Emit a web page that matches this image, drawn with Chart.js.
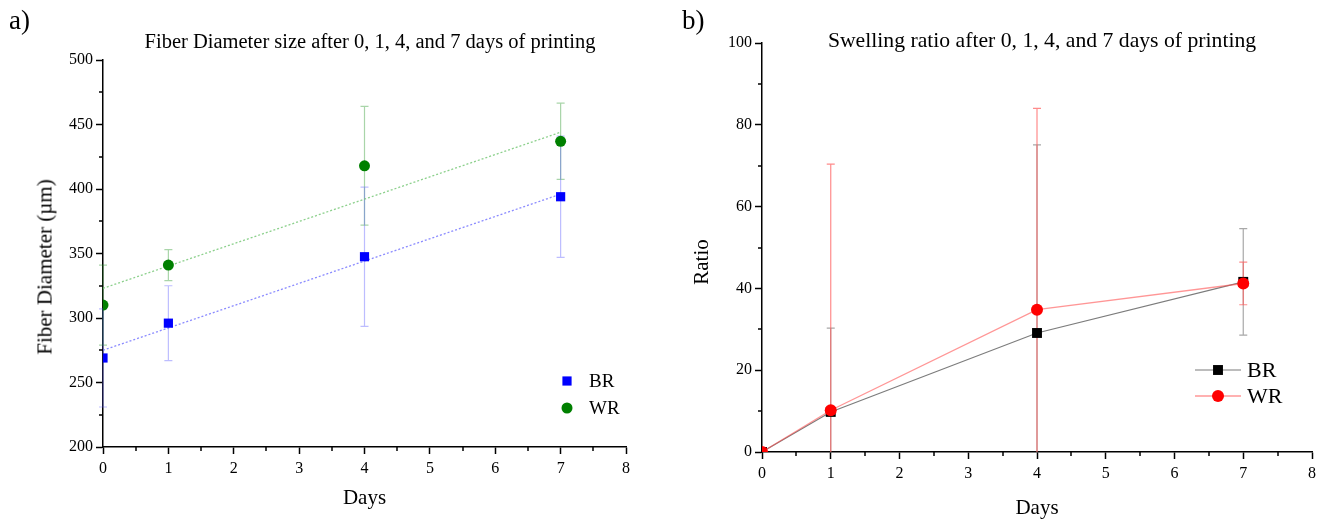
<!DOCTYPE html>
<html>
<head>
<meta charset="utf-8">
<script src="https://cdn.jsdelivr.net/npm/chart.js@4.4.1/dist/chart.umd.min.js"></script>
<style>
    body { margin: 0; background: #fff; width: 1327px; height: 522px; overflow: hidden; position: relative; font-family: "Liberation Serif", "Times New Roman", serif; color: #000; }
    .panel { position: absolute; top: 0; height: 522px; }
    #wrapA { left: 0; width: 660px; }
    #wrapB { left: 660px; width: 667px; }
    .lab { position: absolute; font-size: 27px; line-height: 1; top: 7px; }
    .ttl { position: absolute; font-size: 20.5px; line-height: 1; transform: translate(-50%, -50%); white-space: nowrap; }
    .ytl { position: absolute; font-size: 21px; line-height: 1; transform: translate(-50%, -50%) rotate(-90deg); white-space: nowrap; }
</style>
</head>
<body>
<div class="panel" id="wrapA"><canvas id="chartA"></canvas></div>
<div class="panel" id="wrapB"><canvas id="chartB"></canvas></div>
<div class="lab" style="left:9px">a)</div>
<div class="lab" style="left:682px">b)</div>
<div class="ttl" style="left:370px; top:41px">Fiber Diameter size after 0, 1, 4, and 7 days of printing</div>
<div class="ttl" style="left:1042px; top:41px; font-size:21.7px">Swelling ratio after 0, 1, 4, and 7 days of printing</div>
<div class="ytl" style="left:45px; top:267px">Fiber Diameter (µm)</div>
<div class="ytl" style="left:701px; top:262px">Ratio</div>
<script>
const days = [0, 1, 4, 7];

// a) fiber diameter (µm)
const diamBR = [269, 296, 347.5, 394];
const diamBRErr = [38, 29, 54, 47];
const diamWR = [310, 341, 418, 437];
const diamWRErr = [31, 12, 46, 29.5];
const fitDays = [0, 7];
const fitBR = [275, 396];
const fitWR = [323, 444];

// b) swelling ratio
const swellBR = [0, 9.8, 29.1, 41.6];
const swellBRErr = [0, 20.5, 46, 13];
const swellWR = [0, 10.2, 34.8, 41.2];
const swellWRErr = [0, 60.2, 49.2, 5.2];

const serif = '"Liberation Serif", "Times New Roman", serif';
Chart.defaults.font.family = serif;
Chart.defaults.color = '#000';

const toPoints = (xs, ys) => xs.map((x, i) => ({ x: x, y: ys[i] }));

const errorBars = {
    id: 'errorBars',
    beforeDatasetsDraw(chart) {
        const { ctx, chartArea, scales: { x, y } } = chart;
        ctx.save();
        ctx.beginPath();
        ctx.rect(chartArea.left - 6, chartArea.top - 2, chartArea.width + 12, chartArea.height + 2);
        ctx.clip();
        // same order as chart.js draws datasets: first one ends on top
        chart.data.datasets.slice().reverse().forEach(ds => {
            if (!ds.errors) return;
            ctx.strokeStyle = ds.errorColor;
            ctx.lineWidth = 1.2;
            ds.data.forEach((p, i) => {
                const e = ds.errors[i];
                if (!e) return;
                const px = x.getPixelForValue(p.x);
                const top = y.getPixelForValue(p.y + e);
                const bot = y.getPixelForValue(p.y - e);
                ctx.beginPath();
                ctx.moveTo(px, top); ctx.lineTo(px, bot);
                ctx.moveTo(px - 4, top); ctx.lineTo(px + 4, top);
                ctx.moveTo(px - 4, bot); ctx.lineTo(px + 4, bot);
                ctx.stroke();
            });
        });
        ctx.restore();
    }
};

const minorTicks = {
    id: 'minorTicks',
    afterDraw(chart) {
        const { ctx, chartArea, scales: { x, y } } = chart;
        ctx.save();
        ctx.strokeStyle = '#000';
        ctx.lineWidth = 1.5;
        const xv = x.ticks.map(t => t.value);
        for (let i = 0; i < xv.length - 1; i++) {
            const px = Math.round(x.getPixelForValue((xv[i] + xv[i + 1]) / 2));
            ctx.beginPath(); ctx.moveTo(px, chartArea.bottom); ctx.lineTo(px, chartArea.bottom + 4); ctx.stroke();
        }
        const yv = y.ticks.map(t => t.value);
        for (let i = 0; i < yv.length - 1; i++) {
            const py = Math.round(y.getPixelForValue((yv[i] + yv[i + 1]) / 2));
            ctx.beginPath(); ctx.moveTo(chartArea.left, py); ctx.lineTo(chartArea.left - 4, py); ctx.stroke();
        }
        ctx.restore();
    }
};

// small hand placed legend, styles taken from the datasets
const pinLegend = {
    id: 'pinLegend',
    afterDraw(chart, args, opts) {
        const ctx = chart.ctx;
        ctx.save();
        opts.items.forEach(item => {
            const ds = chart.data.datasets[item.dataset];
            if (item.line) {
                ctx.strokeStyle = ds.borderColor;
                ctx.lineWidth = ds.borderWidth;
                ctx.beginPath(); ctx.moveTo(item.x - 23, item.y); ctx.lineTo(item.x + 23, item.y); ctx.stroke();
            }
            ctx.fillStyle = ds.pointBackgroundColor;
            ctx.beginPath();
            if (ds.pointStyle === 'rect') {
                const s = ds.pointRadius * Math.SQRT1_2;
                ctx.rect(item.x - s, item.y - s, 2 * s, 2 * s);
            } else {
                ctx.arc(item.x, item.y, ds.pointRadius, 0, Math.PI * 2);
            }
            ctx.fill();
            ctx.fillStyle = '#000';
            ctx.font = opts.size + 'px ' + serif;
            ctx.textBaseline = 'middle';
            ctx.fillText(ds.label, item.tx, item.y + 1);
        });
        ctx.restore();
    }
};

const axisX = (height, titlePad) => ({
    type: 'linear', min: 0, max: 8,
    ticks: { stepSize: 1, font: { size: 16 }, padding: 5 },
    grid: { drawOnChartArea: false, tickLength: 7, tickColor: '#000', tickWidth: 1.5 },
    border: { color: '#000', width: 1.5 },
    title: { display: true, text: 'Days', font: { size: 21 }, padding: { top: 0, bottom: titlePad } },
    afterFit: s => { s.height = height; }
});

const axisY = (min, max, step, width) => ({
    type: 'linear', min: min, max: max,
    ticks: { stepSize: step, font: { size: 16 }, padding: 3 },
    grid: { drawOnChartArea: false, tickLength: 7, tickColor: '#000', tickWidth: 1.5 },
    border: { color: '#000', width: 1.5 },
    afterFit: s => { s.width = width; }
});

new Chart(document.getElementById('chartA'), {
    type: 'scatter',
    data: {
        datasets: [
            {
                label: 'BR', data: toPoints(days, diamBR), errors: diamBRErr, errorColor: 'rgba(90,90,255,0.4)',
                pointStyle: 'rect', pointRadius: 6.5, pointBackgroundColor: '#0000ff', pointBorderWidth: 0,
                borderColor: '#0000ff', clip: 0
            },
            {
                label: 'WR', data: toPoints(days, diamWR), errors: diamWRErr, errorColor: 'rgba(40,150,40,0.4)',
                pointStyle: 'circle', pointRadius: 5.5, pointBackgroundColor: '#008000', pointBorderWidth: 0,
                borderColor: '#008000', clip: 0
            },
            {
                label: 'fit BR', type: 'line', data: toPoints(fitDays, fitBR),
                borderColor: 'rgba(110,110,255,0.8)', borderWidth: 1.3, borderDash: [2, 2], pointRadius: 0
            },
            {
                label: 'fit WR', type: 'line', data: toPoints(fitDays, fitWR),
                borderColor: 'rgba(120,200,120,0.85)', borderWidth: 1.3, borderDash: [2, 2], pointRadius: 0
            }
        ]
    },
    options: {
        responsive: true, maintainAspectRatio: false, animation: false,
        layout: { padding: { top: 60, right: 34, bottom: 0, left: 0 } },
        scales: {
            x: axisX(75, 11),
            y: axisY(200, 500, 50, 103)
        },
        plugins: {
            legend: { display: false },
            tooltip: { enabled: false },
            pinLegend: { size: 19, items: [
                { dataset: 0, x: 567, y: 381, tx: 589 },
                { dataset: 1, x: 567, y: 408, tx: 589 }
            ] }
        }
    },
    plugins: [errorBars, minorTicks, pinLegend]
});

new Chart(document.getElementById('chartB'), {
    type: 'line',
    data: {
        datasets: [
            {
                label: 'WR', data: toPoints(days, swellWR), errors: swellWRErr, errorColor: 'rgba(255,90,90,0.7)',
                borderColor: 'rgba(255,80,80,0.6)', borderWidth: 1.3,
                pointStyle: 'circle', pointRadius: 6, pointBackgroundColor: '#ff0000', pointBorderWidth: 0, clip: 0
            },
            {
                label: 'BR', data: toPoints(days, swellBR), errors: swellBRErr, errorColor: 'rgba(110,110,110,0.6)',
                borderColor: 'rgba(100,100,100,0.85)', borderWidth: 1.1,
                pointStyle: 'rect', pointRadius: 7, pointBackgroundColor: '#000000', pointBorderWidth: 0, clip: 0
            }
        ]
    },
    options: {
        responsive: true, maintainAspectRatio: false, animation: false,
        layout: { padding: { top: 43, right: 15, bottom: 0, left: 0 } },
        scales: {
            x: axisX(70, 1),
            y: axisY(0, 100, 20, 102)
        },
        plugins: {
            legend: { display: false },
            tooltip: { enabled: false },
            pinLegend: { size: 22, items: [
                { dataset: 1, x: 558, y: 370, tx: 587, line: true },
                { dataset: 0, x: 558, y: 396, tx: 587, line: true }
            ] }
        }
    },
    plugins: [errorBars, minorTicks, pinLegend]
});
</script>
</body>
</html>
